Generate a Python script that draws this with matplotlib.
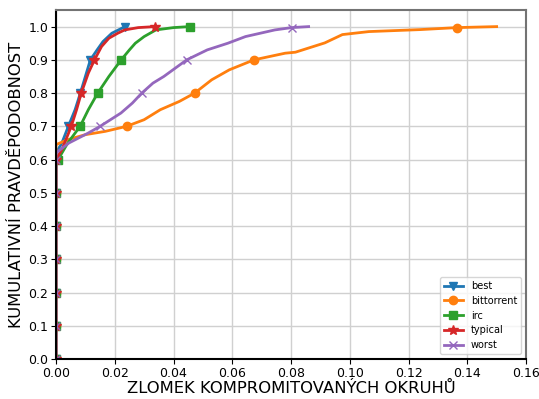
import matplotlib
matplotlib.use("Agg")
import matplotlib.pyplot as plt

# lower part of every CDF sits at x = 0
low_x = [0, 0, 0, 0, 0, 0, 0]
low_y = [0.0, 0.1, 0.2, 0.3, 0.4, 0.5, 0.6]

best_x = low_x + [0, 0.002, 0.0042, 0.0065, 0.0083, 0.010, 0.0117, 0.014, 0.016, 0.019, 0.0235]
best_y = low_y + [0.62, 0.65, 0.70, 0.75, 0.80, 0.85, 0.90, 0.93, 0.955, 0.98, 1.0]
best_m = [0, 1, 2, 3, 4, 5, 6, 9, 11, 13, 17]

bt_x = low_x + [0, 0.004, 0.010, 0.0168, 0.024, 0.030, 0.0355, 0.042, 0.0472, 0.053, 0.059,
                0.0674, 0.078, 0.0815, 0.0915, 0.0975, 0.1065, 0.124, 0.1365, 0.150]
bt_y = low_y + [0.645, 0.66, 0.675, 0.685, 0.70, 0.72, 0.75, 0.775, 0.80, 0.84, 0.87,
                0.90, 0.92, 0.923, 0.951, 0.976, 0.985, 0.991, 0.997, 1.0]
bt_m = [0, 1, 2, 3, 4, 5, 6, 11, 15, 18, 25]

irc_x = low_x + [0.0007, 0.004, 0.0082, 0.011, 0.0142, 0.018, 0.0222, 0.025, 0.027, 0.030, 0.034, 0.040, 0.0455]
irc_y = low_y + [0.60, 0.65, 0.70, 0.75, 0.80, 0.85, 0.90, 0.93, 0.95, 0.97, 0.99, 0.997, 1.0]
irc_m = [0, 1, 2, 3, 4, 5, 7, 9, 11, 13, 19]

typ_x = low_x + [0.002, 0.0052, 0.007, 0.0086, 0.011, 0.0131, 0.0155, 0.018, 0.021, 0.0234, 0.028, 0.0338]
typ_y = low_y + [0.63, 0.70, 0.75, 0.80, 0.86, 0.90, 0.94, 0.965, 0.98, 0.99, 0.997, 1.0]
typ_m = [0, 1, 2, 3, 4, 5, 6, 8, 10, 12, 18]

wst_x = low_x + [0, 0.0044, 0.011, 0.015, 0.0221, 0.026, 0.0292, 0.033, 0.0367, 0.0445, 0.0515,
                 0.0585, 0.0645, 0.0745, 0.0802, 0.086]
wst_y = low_y + [0.62, 0.65, 0.68, 0.70, 0.74, 0.77, 0.80, 0.83, 0.85, 0.90, 0.93,
                 0.95, 0.97, 0.99, 0.997, 1.0]
wst_m = [0, 1, 2, 3, 4, 5, 6, 10, 13, 16, 21]

fig = plt.figure(figsize=(5.39, 3.99), dpi=100)
ax = fig.add_axes([0.1039, 0.100, 0.872, 0.875])

ax.plot(best_x, best_y, marker="v", markevery=best_m, lw=2, ms=6, label="best")
ax.plot(bt_x, bt_y, marker="o", markevery=bt_m, lw=2, ms=6, label="bittorrent")
ax.plot(irc_x, irc_y, marker="s", markevery=irc_m, lw=2, ms=6, label="irc")
ax.plot(typ_x, typ_y, marker="*", markevery=typ_m, lw=2, ms=7, label="typical")
ax.plot(wst_x, wst_y, marker="x", markevery=wst_m, lw=2, ms=6, label="worst")

ax.set_xlim(0, 0.16)
ax.set_ylim(0, 1.05)
ax.set_xticks([0.00, 0.02, 0.04, 0.06, 0.08, 0.10, 0.12, 0.14, 0.16])
ax.set_yticks([0.0, 0.1, 0.2, 0.3, 0.4, 0.5, 0.6, 0.7, 0.8, 0.9, 1.0])
ax.tick_params(labelsize=9, pad=2)
ax.grid(True, color="#d0d0d0", lw=1)
ax.set_axisbelow(True)
for s in ["top", "right"]:
    ax.spines[s].set_color("0.45")
    ax.spines[s].set_linewidth(1.5)
for s in ["left", "bottom"]:
    ax.spines[s].set_linewidth(1.5)

ax.set_xlabel("ZLOMEK KOMPROMITOVANÝCH OKRUHŮ", fontsize=11.8, labelpad=1)
ax.set_ylabel("KUMULATIVNÍ PRAVDĚPODOBNOST", fontsize=11.8, labelpad=3)
ax.legend(loc="lower right", fontsize=7)

fig.savefig("out.png", dpi=100)
